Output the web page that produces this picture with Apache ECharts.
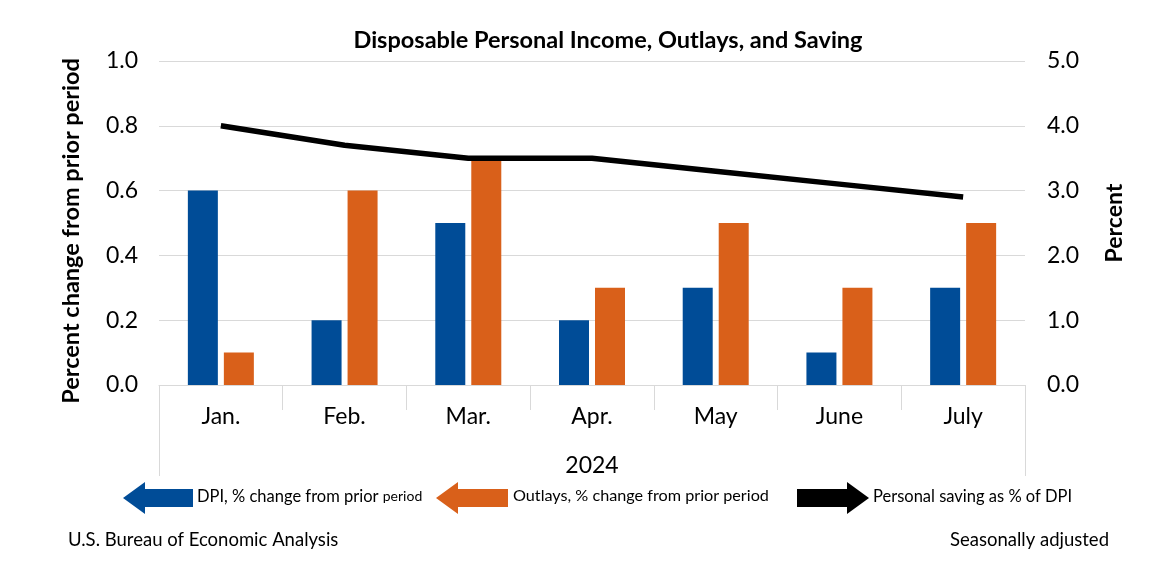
<!DOCTYPE html>
<html><head><meta charset="utf-8">
<script src="https://cdn.jsdelivr.net/npm/echarts@6/dist/echarts.min.js"></script>
<style>html,body{margin:0;padding:0;background:#fff}#c{width:1160px;height:584px}</style>
</head><body><div id="c"></div>
<script>
const categories = ['Jan.', 'Feb.', 'Mar.', 'Apr.', 'May', 'June', 'July'];
const yearLabel = ['2024'];
const dpi = [0.6, 0.2, 0.5, 0.2, 0.3, 0.1, 0.3];
const outlays = [0.1, 0.6, 0.7, 0.3, 0.5, 0.3, 0.5];
const saving = [4.0, 3.7, 3.5, 3.5, 3.3, 3.1, 2.9];
const leftTicks = { min: 0, max: 1.0, interval: 0.2 };
const rightTicks = { min: 0, max: 5.0, interval: 1.0 };

const FONT = 'Lato, "Open Sans", sans-serif';
const BLUE = '#004C97', ORANGE = '#D9601A';
const chart = echarts.init(document.getElementById('c'));

function leftArrow(x, y, w, color) {
  return { type: 'polygon', shape: { points: [[x, y], [x + 22, y - 16], [x + 22, y - 9], [x + w, y - 9], [x + w, y + 9], [x + 22, y + 9], [x + 22, y + 16]] }, style: { fill: color } };
}
function rightArrow(x, y, w, color) {
  return { type: 'polygon', shape: { points: [[x + w, y], [x + w - 22, y - 16], [x + w - 22, y - 9], [x, y - 9], [x, y + 9], [x + w - 22, y + 9], [x + w - 22, y + 16]] }, style: { fill: color } };
}
const legendY = 498;
chart.setOption({
  animation: false,
  textStyle: { fontFamily: FONT },
  title: { text: 'Disposable Personal Income, Outlays, and Saving', left: 603, textAlign: 'center', top: 23,
    textStyle: { fontFamily: FONT, fontSize: 23.5, fontWeight: 'bold', color: '#000' } },
  grid: { left: 159, right: 135, top: 61, bottom: 199 },
  xAxis: [{
    type: 'category', data: categories, position: 'bottom',
    axisLine: { lineStyle: { color: '#d9d9d9', width: 1 } },
    axisTick: { show: true, length: 25, lineStyle: { color: '#d9d9d9' } },
    axisLabel: { color: '#000', fontSize: 23, margin: 20, fontFamily: FONT }
  }, {
    type: 'category', data: yearLabel, position: 'bottom',
    axisLine: { show: false },
    axisTick: { show: true, length: 91, lineStyle: { color: '#d9d9d9' } },
    axisLabel: { color: '#000', fontSize: 23, margin: 69, fontFamily: FONT }
  }],
  yAxis: [{
    type: 'value', min: leftTicks.min, max: leftTicks.max, interval: leftTicks.interval, position: 'left',
    name: 'Percent change from prior period', nameLocation: 'middle', nameGap: 76, nameRotate: 90,
    nameTextStyle: { fontSize: 23.5, fontWeight: 'bold', color: '#000', fontFamily: FONT, padding: [0, 16, 0, 0] },
    axisLine: { show: false }, axisTick: { show: false },
    axisLabel: { color: '#000', fontSize: 23, margin: 21, formatter: v => v.toFixed(1), fontFamily: FONT },
    splitLine: { lineStyle: { color: '#d9d9d9', width: 1 } }
  }, {
    type: 'value', min: rightTicks.min, max: rightTicks.max, interval: rightTicks.interval, position: 'right',
    name: 'Percent', nameLocation: 'middle', nameGap: 78, nameRotate: 90,
    nameTextStyle: { fontSize: 23, fontWeight: 'bold', color: '#000', fontFamily: FONT },
    axisLine: { show: false }, axisTick: { show: false },
    axisLabel: { color: '#000', fontSize: 23, margin: 22, formatter: v => v.toFixed(1), fontFamily: FONT },
    splitLine: { show: false }
  }],
  series: [
    { name: 'DPI, % change from prior period', type: 'bar', data: dpi, barWidth: 30, barGap: '20%', itemStyle: { color: BLUE } },
    { name: 'Outlays, % change from prior period', type: 'bar', data: outlays, barWidth: 30, barGap: '20%', itemStyle: { color: ORANGE } },
    { name: 'Personal saving as % of DPI', type: 'line', yAxisIndex: 1, data: saving, symbol: 'none',
      lineStyle: { color: '#000', width: 5.5 }, itemStyle: { color: '#000' } }
  ],
  graphic: [
    leftArrow(123, legendY, 70, BLUE),
    { type: 'text', left: 197, top: legendY - 10, style: {
      text: '{a|DPI, % change from prior }{b|period}', fill: '#000',
      rich: { a: { fontSize: 16.5, fontFamily: FONT, fill: '#000' }, b: { fontSize: 14, fontFamily: FONT, fill: '#000' } } } },
    leftArrow(436, legendY, 72, ORANGE),
    { type: 'text', left: 513, top: legendY - 10, style: { text: 'Outlays, % change from prior period', fontSize: 16.2, fontFamily: FONT, fill: '#000' } },
    rightArrow(797, legendY, 72, '#000'),
    { type: 'text', left: 873, top: legendY - 10, style: { text: 'Personal saving as % of DPI', fontSize: 16.5, fontFamily: FONT, fill: '#000' } },
    { type: 'text', left: 68, top: 531, style: { text: 'U.S. Bureau of Economic Analysis', fontSize: 18.5, fontFamily: FONT, fill: '#000' } },
    { type: 'text', right: 51, top: 531, style: { text: 'Seasonally adjusted', fontSize: 18.5, fontFamily: FONT, fill: '#000', textAlign: 'right' } }
  ]
});
</script></body></html>
